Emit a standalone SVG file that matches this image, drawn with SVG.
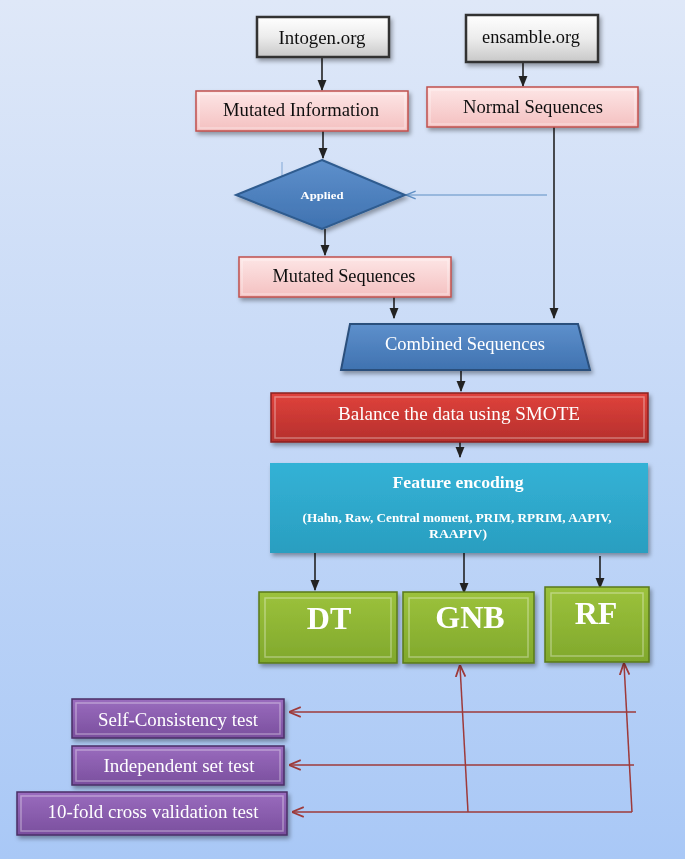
<svg xmlns="http://www.w3.org/2000/svg" width="685" height="859" viewBox="0 0 685 859">
<defs>
<linearGradient id="bg" x1="0" y1="0" x2="0" y2="1"><stop offset="0" stop-color="#dfe8f8"/><stop offset="1" stop-color="#a9c8f6"/></linearGradient>
<linearGradient id="gGray" x1="0" y1="0" x2="0" y2="1"><stop offset="0" stop-color="#ffffff"/><stop offset="0.5" stop-color="#ececec"/><stop offset="1" stop-color="#c8c8c8"/></linearGradient>
<linearGradient id="gPink" x1="0" y1="0" x2="0" y2="1"><stop offset="0" stop-color="#fde6e6"/><stop offset="1" stop-color="#f4c0c0"/></linearGradient>
<linearGradient id="gBlue" x1="0" y1="0" x2="0" y2="1"><stop offset="0" stop-color="#5e90cc"/><stop offset="1" stop-color="#3f72b0"/></linearGradient>
<linearGradient id="gRed" x1="0" y1="0" x2="0" y2="1"><stop offset="0" stop-color="#e0423c"/><stop offset="1" stop-color="#b52f2c"/></linearGradient>
<linearGradient id="gTeal" x1="0" y1="0" x2="0" y2="1"><stop offset="0" stop-color="#33b2d6"/><stop offset="1" stop-color="#2a9ec0"/></linearGradient>
<linearGradient id="gGreen" x1="0" y1="0" x2="0" y2="1"><stop offset="0" stop-color="#9cc23c"/><stop offset="1" stop-color="#80a82c"/></linearGradient>
<linearGradient id="gPurple" x1="0" y1="0" x2="0" y2="1"><stop offset="0" stop-color="#9a6cbe"/><stop offset="1" stop-color="#7a4f9e"/></linearGradient>
<filter id="sh" x="-10%" y="-10%" width="125%" height="135%"><feDropShadow dx="2" dy="3" stdDeviation="2" flood-color="#000" flood-opacity="0.35"/></filter>
<marker id="ab" viewBox="0 0 10 10" refX="9" refY="5" markerWidth="7" markerHeight="7" orient="auto"><path d="M0,1 L10,5 L0,9 z" fill="#222"/></marker>
<marker id="ar" viewBox="0 0 10 10" refX="9" refY="5" markerWidth="8" markerHeight="8" orient="auto"><path d="M0,1 L10,5 L0,9" fill="none" stroke="#9e3a3a" stroke-width="1.5"/></marker>
<marker id="al" viewBox="0 0 10 10" refX="9" refY="5" markerWidth="8" markerHeight="8" orient="auto"><path d="M0,1 L10,5 L0,9" fill="none" stroke="#5f8fc4" stroke-width="1.5"/></marker>
</defs>
<style>
text{font-family:"Liberation Serif","Times New Roman",serif;text-anchor:middle}
.dk{fill:#111;font-size:19px}
.wt{fill:#fff;font-size:19.5px}
.big{fill:#fff;font-size:32px;font-weight:bold}
.bev{fill:none;stroke:#fff;stroke-opacity:0.35;stroke-width:1.5}
.c{fill:none;stroke:#222;stroke-width:1.6;marker-end:url(#ab)}
.r{fill:none;stroke:#9e3a3a;stroke-width:1.5}
</style>
<rect width="685" height="859" fill="url(#bg)"/>

<g id="connectors">
<line class="c" x1="322" y1="57" x2="322" y2="90"/>
<line class="c" x1="523" y1="63" x2="523" y2="86"/>
<line class="c" x1="323" y1="131" x2="323" y2="158"/>
<line x1="547" y1="195" x2="407" y2="195" stroke="#5f8fc4" stroke-width="1.2" marker-end="url(#al)"/>
<line x1="282" y1="162" x2="282" y2="176" stroke="#8fb2dc" stroke-width="1.2"/>
<line class="c" x1="554" y1="127" x2="554" y2="318"/>
<line class="c" x1="325" y1="229" x2="325" y2="255"/>
<line class="c" x1="394" y1="297" x2="394" y2="318"/>
<line class="c" x1="461" y1="370" x2="461" y2="391"/>
<line class="c" x1="460" y1="442" x2="460" y2="457"/>
<line class="c" x1="315" y1="553" x2="315" y2="590"/>
<line class="c" x1="464" y1="553" x2="464" y2="593"/>
<line class="c" x1="600" y1="556" x2="600" y2="588"/>
<line class="r" x1="636" y1="712" x2="290" y2="712" marker-end="url(#ar)"/>
<line class="r" x1="634" y1="765" x2="290" y2="765" marker-end="url(#ar)"/>
<line class="r" x1="632" y1="812" x2="293" y2="812" marker-end="url(#ar)"/>
<line class="r" x1="468" y1="812" x2="460" y2="666" marker-end="url(#ar)"/>
<line class="r" x1="632" y1="812" x2="624" y2="664" marker-end="url(#ar)"/>
</g>

<g id="intogen" filter="url(#sh)">
<rect x="257" y="17" width="132" height="40" fill="url(#gGray)" stroke="#333" stroke-width="2.5"/>
<text class="dk" x="322" y="44" textLength="87" lengthAdjust="spacingAndGlyphs">Intogen.org</text>
</g>
<g id="ensamble" filter="url(#sh)">
<rect x="466" y="15" width="132" height="47" fill="url(#gGray)" stroke="#333" stroke-width="2.5"/>
<text class="dk" x="531" y="43" textLength="98" lengthAdjust="spacingAndGlyphs">ensamble.org</text>
</g>
<g id="mutated-info" filter="url(#sh)">
<rect x="196" y="91" width="212" height="40" fill="url(#gPink)" stroke="#c0504d" stroke-width="1.5"/>
<rect class="bev" x="199" y="94" width="206" height="34"/>
<text class="dk" x="301" y="116" textLength="156" lengthAdjust="spacingAndGlyphs">Mutated Information</text>
</g>
<g id="normal-seq" filter="url(#sh)">
<rect x="427" y="87" width="211" height="40" fill="url(#gPink)" stroke="#c0504d" stroke-width="1.5"/>
<rect class="bev" x="430" y="90" width="205" height="34"/>
<text class="dk" x="533" y="113" textLength="140" lengthAdjust="spacingAndGlyphs">Normal Sequences</text>
</g>
<g id="applied" filter="url(#sh)">
<polygon points="322,160 405,195 322,229 236,195" fill="url(#gBlue)" stroke="#2f5b8f" stroke-width="2"/>
<text x="322" y="199" fill="#fff" font-size="11" font-weight="bold" textLength="43" lengthAdjust="spacingAndGlyphs">Applied</text>
</g>
<g id="mutated-seq" filter="url(#sh)">
<rect x="239" y="257" width="212" height="40" fill="url(#gPink)" stroke="#c0504d" stroke-width="1.5"/>
<rect class="bev" x="242" y="260" width="206" height="34"/>
<text class="dk" x="344" y="282" textLength="143" lengthAdjust="spacingAndGlyphs">Mutated Sequences</text>
</g>
<g id="combined" filter="url(#sh)">
<polygon points="350,324 578,324 590,370 341,370" fill="url(#gBlue)" stroke="#2a4f7c" stroke-width="2"/>
<text class="wt" x="465" y="350" textLength="160" lengthAdjust="spacingAndGlyphs">Combined Sequences</text>
</g>
<g id="smote" filter="url(#sh)">
<rect x="271" y="393" width="377" height="49" fill="url(#gRed)" stroke="#8c2220" stroke-width="1.5"/>
<rect class="bev" x="275" y="397" width="369" height="41"/>
<text class="wt" x="459" y="420" font-size="20" textLength="242" lengthAdjust="spacingAndGlyphs">Balance the data using SMOTE</text>
</g>
<g id="feature" filter="url(#sh)">
<rect x="270" y="463" width="378" height="90" fill="url(#gTeal)"/>
<text x="458" y="488" fill="#fff" font-size="17.5" font-weight="bold" textLength="131" lengthAdjust="spacingAndGlyphs">Feature encoding</text>
<text x="457" y="522" fill="#fff" font-size="12.5" font-weight="bold" textLength="309" lengthAdjust="spacingAndGlyphs">(Hahn, Raw, Central moment, PRIM, RPRIM, AAPIV,</text>
<text x="458" y="538" fill="#fff" font-size="12.5" font-weight="bold" textLength="58" lengthAdjust="spacingAndGlyphs">RAAPIV)</text>
</g>
<g id="dt" filter="url(#sh)">
<rect x="259" y="592" width="138" height="71" fill="url(#gGreen)" stroke="#5a7a1a" stroke-width="1.5"/>
<rect class="bev" x="265" y="598" width="126" height="59"/>
<text class="big" x="329" y="629">DT</text>
</g>
<g id="gnb" filter="url(#sh)">
<rect x="403" y="592" width="131" height="71" fill="url(#gGreen)" stroke="#5a7a1a" stroke-width="1.5"/>
<rect class="bev" x="409" y="598" width="119" height="59"/>
<text class="big" x="470" y="628">GNB</text>
</g>
<g id="rf" filter="url(#sh)">
<rect x="545" y="587" width="104" height="75" fill="url(#gGreen)" stroke="#5a7a1a" stroke-width="1.5"/>
<rect class="bev" x="551" y="593" width="92" height="63"/>
<text class="big" x="596" y="624">RF</text>
</g>
<g id="self-consistency" filter="url(#sh)">
<rect x="72" y="699" width="212" height="39" fill="url(#gPurple)" stroke="#4a2f66" stroke-width="1.5"/>
<rect class="bev" x="76" y="703" width="204" height="31"/>
<text class="wt" x="178" y="726" textLength="160" lengthAdjust="spacingAndGlyphs">Self-Consistency test</text>
</g>
<g id="independent" filter="url(#sh)">
<rect x="72" y="746" width="212" height="39" fill="url(#gPurple)" stroke="#4a2f66" stroke-width="1.5"/>
<rect class="bev" x="76" y="750" width="204" height="31"/>
<text class="wt" x="179" y="772" textLength="151" lengthAdjust="spacingAndGlyphs">Independent  set test</text>
</g>
<g id="tenfold" filter="url(#sh)">
<rect x="17" y="792" width="270" height="43" fill="url(#gPurple)" stroke="#4a2f66" stroke-width="1.5"/>
<rect class="bev" x="21" y="796" width="262" height="35"/>
<text class="wt" x="153" y="818" textLength="211" lengthAdjust="spacingAndGlyphs">10-fold cross  validation test</text>
</g>
</svg>
